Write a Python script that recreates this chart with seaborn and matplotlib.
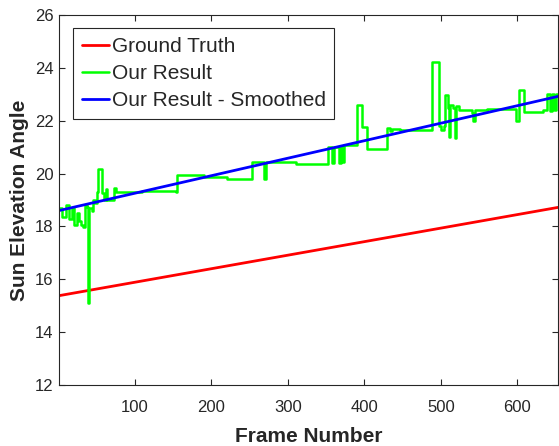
import numpy as np
import pandas as pd
import seaborn as sns
import matplotlib.pyplot as plt

# ground truth and smoothed result are straight lines (end points)
gt_frames = [1, 653]
gt_angle = [15.38, 18.72]
smooth_frames = [1, 653]
smooth_angle = [18.6, 22.92]

# raw result, step values (frame where the value starts)
res_frames = [1, 5, 10, 14, 18, 21, 25, 27, 30, 32, 35, 38, 39, 40, 44, 46, 48, 50,
              52, 57, 60, 62, 64, 70, 73, 76, 110, 154, 155, 190, 221, 250, 253, 269,
              271, 311, 352, 358, 360, 367, 369, 371, 374, 391, 397, 403, 429, 433,
              436, 446, 489, 497, 500, 504, 505, 509, 510, 512, 516, 519, 520, 523,
              540, 542, 544, 560, 598, 602, 609, 633, 638, 642, 645, 648, 650, 653]
res_angle = [18.68, 18.35, 18.8, 18.3, 18.7, 18.07, 18.5, 18.2, 18.07, 17.96, 18.8, 18.75,
             15.09, 18.7, 18.6, 19.0, 18.9, 19.3, 20.18, 19.25, 19.0, 19.4, 19.0, 19.0,
             19.45, 19.3, 19.33, 19.3, 19.93, 19.88, 19.78, 19.8, 20.43, 19.8, 20.43,
             20.37, 21.0, 20.4, 21.0, 20.4, 21.05, 20.45, 21.1, 22.58, 21.76, 20.94,
             21.72, 21.6, 21.7, 21.64, 24.22, 21.8, 21.65, 21.8, 22.96, 22.5, 21.4, 22.6,
             22.5, 21.33, 22.55, 22.4, 22.3, 22.0, 22.4, 22.45, 21.98, 23.15, 22.33,
             22.4, 23.0, 22.35, 23.0, 22.4, 23.0, 23.0]

sns.set_style("ticks")
plt.rcParams['font.family'] = ['Liberation Sans', 'DejaVu Sans']

fig = plt.figure(figsize=(5.59, 4.46), dpi=100)
ax = fig.add_axes([59/559, 61/446, 499/559, 370/446])

gt = pd.DataFrame({"frame": gt_frames, "angle": gt_angle})
res = pd.DataFrame({"frame": res_frames, "angle": res_angle})
sm = pd.DataFrame({"frame": smooth_frames, "angle": smooth_angle})

sns.lineplot(data=gt, x="frame", y="angle", ax=ax, color="#ff0000", lw=2, label="Ground Truth")
sns.lineplot(data=res, x="frame", y="angle", ax=ax, color="#00ff00", lw=1.8,
             drawstyle="steps-post", label="Our Result")
sns.lineplot(data=sm, x="frame", y="angle", ax=ax, color="#0000ff", lw=2,
             label="Our Result - Smoothed")

ax.set_xlim(1, 653)
ax.set_ylim(12, 26)
ax.set_xticks([100, 200, 300, 400, 500, 600])
ax.set_yticks([12, 14, 16, 18, 20, 22, 24, 26])
ax.tick_params(direction="in", length=4, width=0.8, colors="#262626", labelsize=12,
               top=True, right=True)
ax.tick_params(axis="x", pad=10.5)
ax.tick_params(axis="y", pad=4)
for s in ax.spines.values():
    s.set_color("#262626")
    s.set_linewidth(0.8)

ax.set_xlabel("Frame Number", fontsize=15, fontweight="bold", color="#262626", labelpad=9)
ax.set_ylabel("Sun Elevation Angle", fontsize=15, fontweight="bold", color="#262626", labelpad=4)

leg = ax.legend(loc="upper left", bbox_to_anchor=(0.028, 0.964), borderaxespad=0,
                fontsize=15, handlelength=1.3, handletextpad=0.15, labelspacing=0.39,
                borderpad=0.41, fancybox=False, framealpha=1, edgecolor="#262626")
leg.get_frame().set_linewidth(0.8)

fig.savefig("out.png", dpi=100)
